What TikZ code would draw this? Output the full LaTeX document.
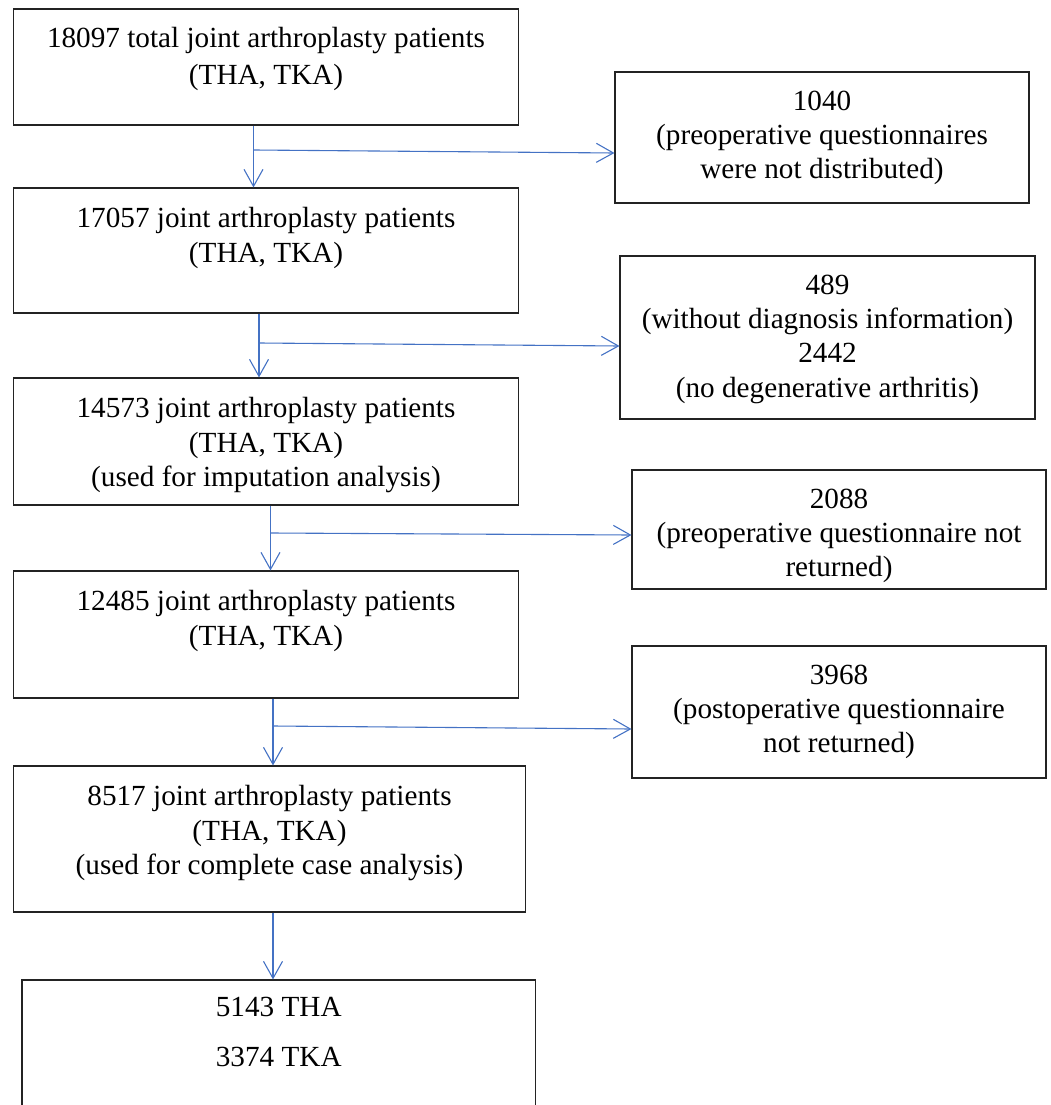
\documentclass[tikz,border=0pt]{standalone}
\usepackage{fontspec}
\setmainfont{Liberation Serif}
\usepackage{xcolor}
\usepackage{tikz}
\usetikzlibrary{arrows.meta,positioning,calc}
\definecolor{flowblue}{RGB}{68,114,196}
\definecolor{boxdark}{RGB}{35,35,35}

\begin{document}
\begin{tikzpicture}[
  x=1pt, y=-1pt,
  every node/.style={font=\fontsize{29.2pt}{34.4pt}\selectfont},
  box/.style={draw=boxdark, line width=1.1pt, minimum width=505pt, minimum height=125pt, inner sep=0pt},
  side/.style={box, minimum width=414pt},
  txt/.style={align=center, inner sep=0pt},
  arrow/.style={-{Straight Barb[length=17pt,width=19pt]}, line width=1.1pt, color=flowblue}
]
  \useasboundingbox (0,0) rectangle (1051,1105);
  \clip (0,0) rectangle (1051,1105);

  \node[box, minimum height=116pt] (b1) at (266,67) {};
  \node[side, minimum height=131pt] (rb1) at (822,137.5) {};
  \node[box] (b2) at (266,250.5) {};
  \node[side, minimum width=415pt, minimum height=163pt] (rb2) at (827.5,337.5) {};
  \node[box, minimum height=127pt] (b3) at (266,441.5) {};
  \node[side, minimum height=119pt] (rb3) at (839,529.5) {};
  \node[box, minimum height=127pt] (b4) at (266,634.5) {};
  \node[side, minimum height=132pt] (rb4) at (839,712) {};
  \node[box, minimum width=512pt, minimum height=146pt] (b5) at (269.5,839) {};
  \node[box, minimum width=513.5pt, minimum height=160pt] (b6) at (278.75,1060) {};

  \node[txt, below=19pt of b1.north] (t1) {18097 total joint arthroplasty patients\\[2.6pt](THA, TKA)};
  \node[txt, below=19pt of rb1.north] (s1) {1040\\(preoperative questionnaires\\were not distributed)};
  \node[txt, below=20pt of b2.north] (t2) {17057 joint arthroplasty patients\\(THA, TKA)};
  \node[txt, below=19pt of rb2.north] (s2) {489\\(without diagnosis information)\\2442\\(no degenerative arthritis)};
  \node[txt, below=20pt of b3.north] (t3) {14573 joint arthroplasty patients\\(THA, TKA)\\(used for imputation analysis)};
  \node[txt, below=19pt of rb3.north] (s3) {2088\\(preoperative questionnaire not\\returned)};
  \node[txt, below=20pt of b4.north] (t4) {12485 joint arthroplasty patients\\(THA, TKA)};
  \node[txt, below=19pt of rb4.north] (s4) {3968\\(postoperative questionnaire\\not returned)};
  \node[txt, below=20pt of b5.north] (t5) {8517 joint arthroplasty patients\\(THA, TKA)\\(used for complete case analysis)};
  \node[txt, below=18pt of b6.north] (t6) {5143 THA\\[15.6pt]3374 TKA};

  \coordinate (j1) at (253.5,150);
  \coordinate (j2) at (259,343);
  \coordinate (j3) at (270.5,533);
  \coordinate (j4) at (273,726);
  \coordinate (j5) at (273,940);

  \draw[arrow] (b1.south -| j1) -- (b2.north -| j1);
  \draw[arrow] (j1) -- ($(j1 -| rb1.west)+(0,3)$);
  \draw[arrow] (b2.south -| j2) -- (b3.north -| j2);
  \draw[arrow] (j2) -- ($(j2 -| rb2.west)+(0,3)$);
  \draw[arrow] (b3.south -| j3) -- (b4.north -| j3);
  \draw[arrow] (j3) -- ($(j3 -| rb3.west)+(0,2)$);
  \draw[arrow] (b4.south -| j4) -- (b5.north -| j4);
  \draw[arrow] (j4) -- ($(j4 -| rb4.west)+(0,3)$);
  \draw[arrow] (b5.south -| j5) -- (b6.north -| j5);
\end{tikzpicture}
\end{document}
